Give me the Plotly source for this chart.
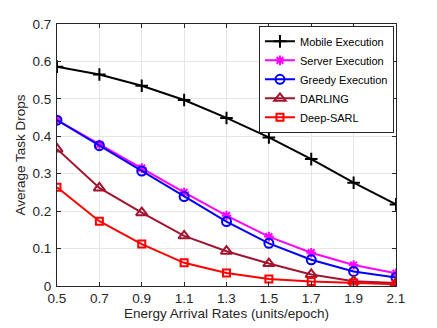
import plotly.graph_objects as go

x = [0.5, 0.7, 0.9, 1.1, 1.3, 1.5, 1.7, 1.9, 2.1]
mobile = [0.586, 0.565, 0.535, 0.497, 0.449, 0.397, 0.339, 0.276, 0.218]
server = [0.443, 0.378, 0.315, 0.250, 0.188, 0.132, 0.089, 0.056, 0.034]
greedy = [0.443, 0.375, 0.307, 0.239, 0.172, 0.114, 0.070, 0.039, 0.023]
darling = [0.366, 0.262, 0.196, 0.134, 0.093, 0.060, 0.031, 0.013, 0.008]
deepsarl = [0.264, 0.173, 0.112, 0.062, 0.035, 0.019, 0.012, 0.008, 0.005]
yticks = [0, 0.1, 0.2, 0.3, 0.4, 0.5, 0.6, 0.7]

names = ["Mobile Execution", "Server Execution", "Greedy Execution", "DARLING", "Deep-SARL"]
colors = ["#000000", "#ff00ff", "#0000ff", "#a2142f", "#ff0000"]
symbols = ["cross-thin-open", "asterisk-open", "circle-open", "triangle-up-open", "square-open"]
sizes = [9, 8, 9, 10, 7]
series = [mobile, server, greedy, darling, deepsarl]

FONT = "Liberation Sans, Arial"
fig = go.Figure()
for n, c, s, sz, y in zip(names, colors, symbols, sizes, series):
    fig.add_trace(go.Scatter(
        x=x, y=y, name=n, mode="lines+markers",
        line=dict(color=c, width=2),
        marker=dict(symbol=s, size=sz, color=c, line=dict(color=c, width=2)),
    ))

axis_common = dict(
    showgrid=True, gridcolor="#e6e6e6", gridwidth=1,
    showline=True, linecolor="#262626", linewidth=1, mirror="ticks",
    ticks="inside", ticklen=4, tickcolor="#262626",
    tickfont=dict(family=FONT, size=13.5, color="#262626"),
    zeroline=False, automargin=False,
)
fig.update_xaxes(range=[0.5, 2.1], tickvals=x, ticktext=[f"{v:.1f}" for v in x],
                 ticklabelstandoff=0,
                 title=dict(text="Energy Arrival Rates (units/epoch)",
                            font=dict(family=FONT, size=13.5, color="#262626"),
                            standoff=1),
                 **axis_common)
fig.update_yaxes(range=[0, 0.7], tickvals=yticks,
                 ticktext=[f"{v:g}" for v in yticks],
                 ticklabelstandoff=2,
                 title=dict(text="Average Task Drops",
                            font=dict(family=FONT, size=13.5, color="#262626"),
                            standoff=3),
                 **axis_common)

# the page body adds an 8px offset, so margins are reduced by 8px on left/top
fig.update_layout(
    width=429, height=320,
    margin=dict(l=49, r=41, t=16, b=42),
    plot_bgcolor="white", paper_bgcolor="white",
    showlegend=True,
    legend=dict(x=0.994, y=0.993, xanchor="right", yanchor="top",
                bgcolor="white", bordercolor="#262626", borderwidth=1,
                font=dict(family=FONT, size=11, color="#000000"),
                tracegroupgap=0, itemwidth=30),
)

fig.write_html("out.html")
